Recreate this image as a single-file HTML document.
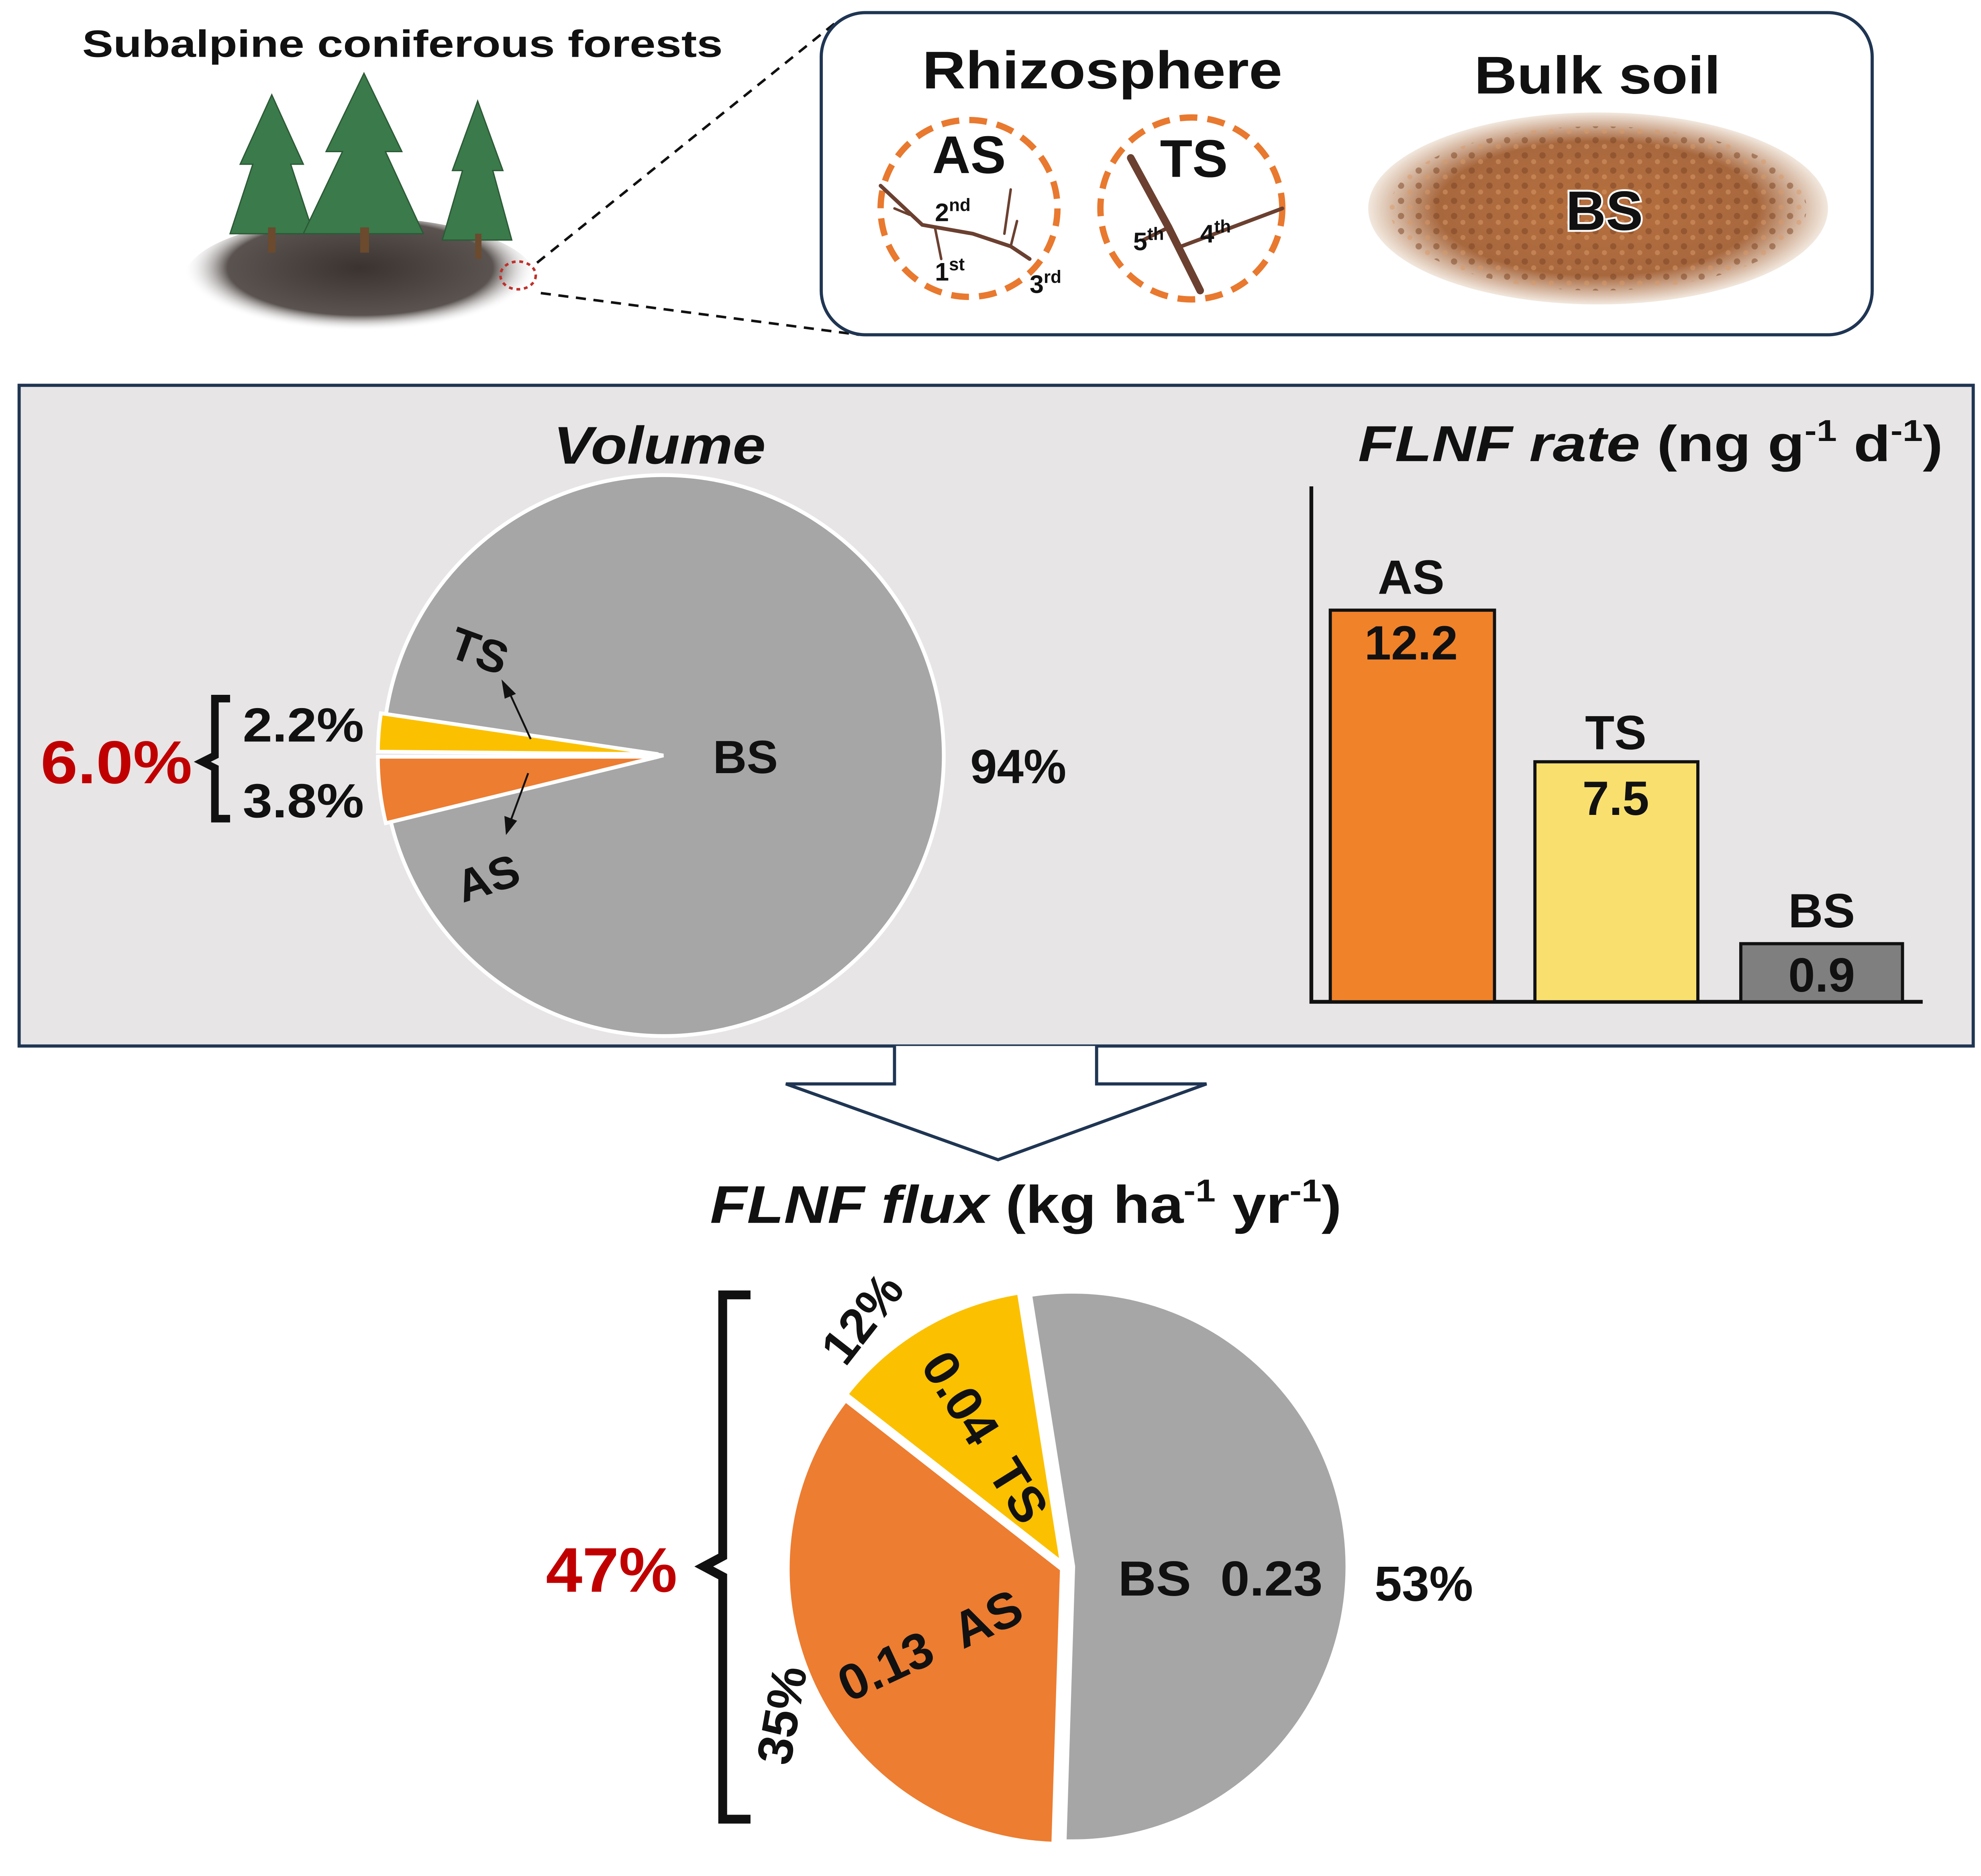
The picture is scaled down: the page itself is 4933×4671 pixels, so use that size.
<!DOCTYPE html>
<html><head><meta charset="utf-8"><style>
html,body{margin:0;padding:0;background:#fff}
svg{display:block}
text{font-family:"Liberation Sans",Arial,sans-serif;font-weight:bold;fill:#111}
</style></head><body>
<svg width="4933" height="4671" viewBox="0 0 1568 1485" xmlns="http://www.w3.org/2000/svg">
<defs>
<radialGradient id="soil" cx="50%" cy="50%" r="50%">
<stop offset="0%" stop-color="#b8703e"/><stop offset="70%" stop-color="#a8683e"/><stop offset="100%" stop-color="#f2e8de"/>
</radialGradient>
<pattern id="dots" width="14" height="12" patternUnits="userSpaceOnUse">
<circle cx="3" cy="3" r="2.5" fill="#7a4424" opacity="0.5"/><circle cx="10" cy="8" r="2" fill="#d99a68" opacity="0.5"/>
</pattern>
<radialGradient id="root" cx="50%" cy="40%" r="50%">
<stop offset="0%" stop-color="#3a3330"/><stop offset="75%" stop-color="#5a5350"/><stop offset="100%" stop-color="#fff" stop-opacity="0"/>
</radialGradient>
</defs>
<rect width="1568" height="1485" fill="#fff"/>

<text x="65" y="45" font-size="30" textLength="507" lengthAdjust="spacingAndGlyphs">Subalpine coniferous forests</text>
<ellipse cx="285" cy="222" rx="140" ry="50" fill="url(#root)"/>
<g fill="#3b7a4a" stroke="#2b5a36" stroke-width="1">
<polygon points="215,75 240,130 230,130 248,185 182,185 200,130 190,130"/>
<polygon points="288,58 318,120 305,120 335,185 240,185 271,120 258,120"/>
<polygon points="378,80 398,135 390,135 405,190 350,190 366,135 358,135"/>
</g>
<g fill="#6b4a2e"><rect x="212" y="180" width="6" height="20"/><rect x="285" y="180" width="7" height="20"/><rect x="376" y="185" width="5" height="20"/></g>
<ellipse cx="410" cy="218" rx="14" ry="11" fill="none" stroke="#c0302a" stroke-width="2" stroke-dasharray="3,3"/>
<line x1="425" y1="208" x2="665" y2="15" stroke="#111" stroke-width="2" stroke-dasharray="8,6"/>
<line x1="428" y1="232" x2="680" y2="265" stroke="#111" stroke-width="2" stroke-dasharray="8,6"/>

<rect x="650" y="10" width="832" height="255" rx="35" fill="#fff" stroke="#1f3553" stroke-width="2.5"/>
<text x="730" y="70" font-size="42" textLength="285" lengthAdjust="spacingAndGlyphs">Rhizosphere</text>
<text x="1167" y="74" font-size="42" textLength="195" lengthAdjust="spacingAndGlyphs">Bulk soil</text>
<circle cx="767" cy="165" r="70" fill="#fff" stroke="#e8792f" stroke-width="5" stroke-dasharray="14,8"/>
<circle cx="943" cy="165" r="72" fill="#fff" stroke="#e8792f" stroke-width="5" stroke-dasharray="14,8"/>
<g stroke="#6b4030" fill="none" stroke-linecap="round">
<path d="M697,147 L730,178 L770,185 L800,195 L815,205" stroke-width="3"/>
<path d="M740,180 L745,205 M800,195 L805,175 M800,150 L795,185 M708,165 L720,170" stroke-width="2"/>
<path d="M895,125 L925,180 L950,230" stroke-width="6"/>
<path d="M935,195 L1015,165 M925,180 L905,190" stroke-width="3"/>
</g>
<text x="767" y="137" font-size="42" text-anchor="middle">AS</text>
<text x="740" y="175" font-size="20">2<tspan font-size="14" dy="-8">nd</tspan></text>
<text x="740" y="222" font-size="20">1<tspan font-size="14" dy="-8">st</tspan></text>
<text x="815" y="232" font-size="20">3<tspan font-size="14" dy="-8">rd</tspan></text>
<text x="945" y="140" font-size="42" text-anchor="middle">TS</text>
<text x="897" y="198" font-size="20">5<tspan font-size="14" dy="-8">th</tspan></text>
<text x="950" y="192" font-size="20">4<tspan font-size="14" dy="-8">th</tspan></text>
<ellipse cx="1265" cy="165" rx="182" ry="76" fill="url(#soil)"/>
<ellipse cx="1265" cy="165" rx="165" ry="65" fill="url(#dots)"/>
<text x="1270" y="182" font-size="44" text-anchor="middle" stroke="#fff" stroke-width="3" paint-order="stroke">BS</text>

<rect x="15" y="305" width="1547" height="523" fill="#e7e5e6" stroke="#1f3553" stroke-width="2.5"/>
<text x="438" y="367" font-size="42" font-style="italic" textLength="168" lengthAdjust="spacingAndGlyphs">Volume</text>
<path d="M525,598 L305.4,565.6 A222 222 0 1 1 309.3,650.6 Z" fill="#a6a6a6" stroke="#fff" stroke-width="3"/>
<path d="M521,597 L299,595 A222 222 0 0 1 301.4,564.6 Z" fill="#fbc000" stroke="#fff" stroke-width="3"/>
<path d="M521,599 L305.3,651.6 A222 222 0 0 1 299,599 Z" fill="#ed7d31" stroke="#fff" stroke-width="3"/>
<text x="590" y="612" font-size="37" text-anchor="middle">BS</text>
<text x="806" y="620" font-size="38" text-anchor="middle">94%</text>
<text x="375" y="527" font-size="36" text-anchor="middle" transform="rotate(20 375 527)">TS</text>
<text x="390" y="707" font-size="36" text-anchor="middle" transform="rotate(-18 390 707)">AS</text>
<g stroke="#111" stroke-width="1.5" fill="#111">
<line x1="420" y1="585" x2="403" y2="548"/><polygon points="398,540 400,552 407,549"/>
<line x1="418" y1="612" x2="404" y2="650"/><polygon points="401,659 400,647 408,650"/>
</g>
<text x="192" y="587" font-size="38" textLength="96" lengthAdjust="spacingAndGlyphs">2.2%</text>
<text x="192" y="647" font-size="38" textLength="96" lengthAdjust="spacingAndGlyphs">3.8%</text>
<path d="M182,553 L170,553 L170,598 L160,603 L170,608 L170,648 L182,648" fill="none" stroke="#111" stroke-width="6"/>
<text x="32" y="620" font-size="48" textLength="120" lengthAdjust="spacingAndGlyphs" style="fill:#c00000">6.0%</text>

<text x="1075" y="365" font-size="40" textLength="463" lengthAdjust="spacingAndGlyphs"><tspan font-style="italic">FLNF rate</tspan> (ng g<tspan font-size="24" dy="-16">-1</tspan><tspan dy="16"> d</tspan><tspan font-size="24" dy="-16">-1</tspan><tspan dy="16">)</tspan></text>
<path d="M1038,385 L1038,793 L1522,793" fill="none" stroke="#111" stroke-width="3"/>
<rect x="1053" y="483" width="130" height="310" fill="#f0822a" stroke="#111" stroke-width="2.5"/>
<rect x="1215" y="603" width="129" height="190" fill="#f9e06e" stroke="#111" stroke-width="2.5"/>
<rect x="1378" y="747" width="128" height="46" fill="#7f7f7f" stroke="#111" stroke-width="2.5"/>
<text x="1117" y="470" font-size="38" text-anchor="middle">AS</text>
<text x="1117" y="522" font-size="38" text-anchor="middle">12.2</text>
<text x="1279" y="593" font-size="38" text-anchor="middle">TS</text>
<text x="1279" y="645" font-size="38" text-anchor="middle">7.5</text>
<text x="1442" y="734" font-size="38" text-anchor="middle">BS</text>
<text x="1442" y="785" font-size="38" text-anchor="middle">0.9</text>

<path d="M708,828 L708,858 L622,858 L790,918 L955,858 L868,858 L868,828" fill="#fff" stroke="#1f3553" stroke-width="2.5"/>

<text x="562" y="968" font-size="42" textLength="500" lengthAdjust="spacingAndGlyphs"><tspan font-style="italic">FLNF flux</tspan> (kg ha<tspan font-size="25" dy="-17">-1</tspan><tspan dy="17"> yr</tspan><tspan font-size="25" dy="-17">-1</tspan><tspan dy="17">)</tspan></text>
<path d="M849,1240 L814.9,1024.7 A218 218 0 1 1 842.2,1457.9 Z" fill="#a6a6a6" stroke="#fff" stroke-width="4"/>
<path d="M841,1242 L834.2,1459.9 A218 218 0 0 1 669.2,1107.8 Z" fill="#ed7d31" stroke="#fff" stroke-width="4"/>
<path d="M841,1238 L669.2,1103.8 A218 218 0 0 1 806.9,1022.7 Z" fill="#fbc000" stroke="#fff" stroke-width="4"/>
<text x="885" y="1263" font-size="39" textLength="162" lengthAdjust="spacingAndGlyphs">BS&#160;&#160;0.23</text>
<text x="1127" y="1267" font-size="39" text-anchor="middle">53%</text>
<text x="768" y="1145" font-size="40" text-anchor="middle" transform="rotate(58 768 1145)">0.04&#160;&#160;TS</text>
<text x="693" y="1052" font-size="39" text-anchor="middle" transform="rotate(-52 693 1052)">12%</text>
<text x="742" y="1315" font-size="40" text-anchor="middle" transform="rotate(-25 742 1315)">0.13&#160;&#160;AS</text>
<text x="632" y="1360" font-size="39" text-anchor="middle" transform="rotate(-80 632 1360)">35%</text>
<path d="M594,1025 L572,1025 L572,1232 L557,1240 L572,1248 L572,1440 L594,1440" fill="none" stroke="#111" stroke-width="7"/>
<text x="432" y="1260" font-size="50" textLength="104" lengthAdjust="spacingAndGlyphs" style="fill:#c00000">47%</text>
</svg>
</body></html>
